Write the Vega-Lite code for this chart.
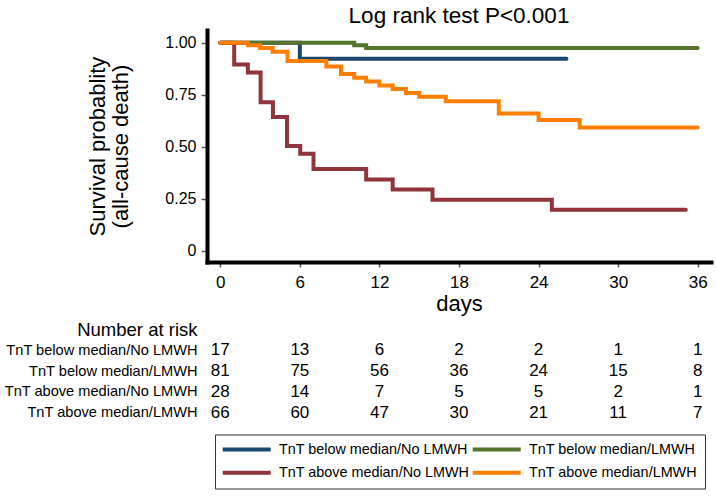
{
  "$schema": "https://vega.github.io/schema/vega-lite/v6.json",
  "background": "white",
  "padding": {"left": 3, "top": 4, "right": 4, "bottom": 4},
  "spacing": 5,
  "config": {
    "view": {"stroke": null},
    "font": "Liberation Sans",
    "axis": {"grid": false}
  },
  "datasets": {
    "km": [
      {"group": "TnT below median/No LMWH", "day": 0, "surv": 1},
      {"group": "TnT below median/No LMWH", "day": 6, "surv": 0.923},
      {"group": "TnT below median/No LMWH", "day": 26.1, "surv": 0.923},
      {"group": "TnT below median/LMWH", "day": 0, "surv": 1},
      {"group": "TnT below median/LMWH", "day": 10.1, "surv": 0.988},
      {"group": "TnT below median/LMWH", "day": 11, "surv": 0.975},
      {"group": "TnT below median/LMWH", "day": 36, "surv": 0.975},
      {"group": "TnT above median/No LMWH", "day": 0, "surv": 1},
      {"group": "TnT above median/No LMWH", "day": 1.05, "surv": 0.895},
      {"group": "TnT above median/No LMWH", "day": 2.08, "surv": 0.857},
      {"group": "TnT above median/No LMWH", "day": 3.04, "surv": 0.714},
      {"group": "TnT above median/No LMWH", "day": 3.97, "surv": 0.643},
      {"group": "TnT above median/No LMWH", "day": 5.03, "surv": 0.503},
      {"group": "TnT above median/No LMWH", "day": 6.03, "surv": 0.466},
      {"group": "TnT above median/No LMWH", "day": 7.03, "surv": 0.393},
      {"group": "TnT above median/No LMWH", "day": 11, "surv": 0.343},
      {"group": "TnT above median/No LMWH", "day": 13, "surv": 0.295},
      {"group": "TnT above median/No LMWH", "day": 16, "surv": 0.245},
      {"group": "TnT above median/No LMWH", "day": 25, "surv": 0.197},
      {"group": "TnT above median/No LMWH", "day": 35.1, "surv": 0.197},
      {"group": "TnT above median/LMWH", "day": 0, "surv": 1},
      {"group": "TnT above median/LMWH", "day": 2.08, "surv": 0.988},
      {"group": "TnT above median/LMWH", "day": 3.0, "surv": 0.975},
      {"group": "TnT above median/LMWH", "day": 3.95, "surv": 0.957},
      {"group": "TnT above median/LMWH", "day": 5.07, "surv": 0.912},
      {"group": "TnT above median/LMWH", "day": 8.0, "surv": 0.885},
      {"group": "TnT above median/LMWH", "day": 9.1, "surv": 0.85},
      {"group": "TnT above median/LMWH", "day": 10.1, "surv": 0.831},
      {"group": "TnT above median/LMWH", "day": 11.0, "surv": 0.814},
      {"group": "TnT above median/LMWH", "day": 12.0, "surv": 0.794},
      {"group": "TnT above median/LMWH", "day": 13.0, "surv": 0.777},
      {"group": "TnT above median/LMWH", "day": 14.0, "surv": 0.758},
      {"group": "TnT above median/LMWH", "day": 15.0, "surv": 0.74},
      {"group": "TnT above median/LMWH", "day": 17.0, "surv": 0.718},
      {"group": "TnT above median/LMWH", "day": 21.0, "surv": 0.66},
      {"group": "TnT above median/LMWH", "day": 24.0, "surv": 0.628},
      {"group": "TnT above median/LMWH", "day": 27.1, "surv": 0.593},
      {"group": "TnT above median/LMWH", "day": 36.0, "surv": 0.593}
    ],
    "risk": [
      {"group": "TnT below median/No LMWH", "day": 0, "n": 17},
      {"group": "TnT below median/No LMWH", "day": 6, "n": 13},
      {"group": "TnT below median/No LMWH", "day": 12, "n": 6},
      {"group": "TnT below median/No LMWH", "day": 18, "n": 2},
      {"group": "TnT below median/No LMWH", "day": 24, "n": 2},
      {"group": "TnT below median/No LMWH", "day": 30, "n": 1},
      {"group": "TnT below median/No LMWH", "day": 36, "n": 1},
      {"group": "TnT below median/LMWH", "day": 0, "n": 81},
      {"group": "TnT below median/LMWH", "day": 6, "n": 75},
      {"group": "TnT below median/LMWH", "day": 12, "n": 56},
      {"group": "TnT below median/LMWH", "day": 18, "n": 36},
      {"group": "TnT below median/LMWH", "day": 24, "n": 24},
      {"group": "TnT below median/LMWH", "day": 30, "n": 15},
      {"group": "TnT below median/LMWH", "day": 36, "n": 8},
      {"group": "TnT above median/No LMWH", "day": 0, "n": 28},
      {"group": "TnT above median/No LMWH", "day": 6, "n": 14},
      {"group": "TnT above median/No LMWH", "day": 12, "n": 7},
      {"group": "TnT above median/No LMWH", "day": 18, "n": 5},
      {"group": "TnT above median/No LMWH", "day": 24, "n": 5},
      {"group": "TnT above median/No LMWH", "day": 30, "n": 2},
      {"group": "TnT above median/No LMWH", "day": 36, "n": 1},
      {"group": "TnT above median/LMWH", "day": 0, "n": 66},
      {"group": "TnT above median/LMWH", "day": 6, "n": 60},
      {"group": "TnT above median/LMWH", "day": 12, "n": 47},
      {"group": "TnT above median/LMWH", "day": 18, "n": 30},
      {"group": "TnT above median/LMWH", "day": 24, "n": 21},
      {"group": "TnT above median/LMWH", "day": 30, "n": 11},
      {"group": "TnT above median/LMWH", "day": 36, "n": 7}
    ]
  },
  "resolve": {"scale": {"x": "independent", "y": "independent"}},
  "vconcat": [
    {
      "width": 504,
      "height": 232,
      "title": {"text": "Log rank test P<0.001", "fontSize": 22.5, "fontWeight": "normal", "anchor": "middle", "offset": 3, "color": "black", "font": "Liberation Sans"},
      "data": {"name": "km"},
      "mark": {"type": "line", "interpolate": "step-after", "strokeWidth": 4, "strokeCap": "round", "strokeJoin": "miter"},
      "encoding": {
        "x": {
          "field": "day", "type": "quantitative",
          "scale": {"domain": [-1, 37], "nice": false, "zero": false},
          "axis": {"values": [0, 6, 12, 18, 24, 30, 36], "title": "days", "titleFontSize": 22, "titleFontWeight": "normal", "titleColor": "black", "titlePadding": 3, "labelFontSize": 17, "labelColor": "black", "labelPadding": 7, "tickSize": 5, "tickColor": "#555", "tickWidth": 1.5, "domainColor": "black", "domainWidth": 4, "domainCap": "square", "labelFlush": false}
        },
        "y": {
          "field": "surv", "type": "quantitative",
          "scale": {"domain": [-0.054, 1.061], "nice": false, "zero": false},
          "axis": {"values": [0, 0.25, 0.5, 0.75, 1], "labelExpr": "datum.value == 0 ? '0' : format(datum.value, '.2f')", "title": ["Survival probablity", "(all-cause death)"], "titleFontSize": 22, "titleFontWeight": "normal", "titleColor": "black", "titleLineHeight": 23, "titlePadding": 32, "labelFontSize": 16, "labelColor": "black", "labelPadding": 5, "tickSize": 6, "tickColor": "#555", "tickWidth": 1.5, "domainColor": "black", "domainWidth": 4, "domainCap": "square", "labelFlush": false}
        },
        "color": {
          "field": "group", "type": "nominal",
          "scale": {
            "domain": ["TnT below median/No LMWH", "TnT above median/No LMWH", "TnT below median/LMWH", "TnT above median/LMWH"],
            "range": ["#1a476f", "#90353b", "#55752f", "#ff8000"]
          },
          "legend": {"orient": "none", "legendX": 8, "legendY": 404.5, "title": null, "columns": 2, "symbolType": "M-1.4,0H8.2", "symbolStrokeWidth": 4, "symbolSize": 100, "labelFontSize": 14.4, "labelColor": "black", "labelLimit": 400, "strokeColor": "#333", "fillColor": "white", "padding": 7.5, "rowPadding": 6.5, "columnPadding": -5, "labelOffset": 42}
        }
      }
    },
    {
      "width": 504,
      "height": 104,
      "data": {"name": "risk"},
      "mark": {"type": "text", "fontSize": 17, "color": "black"},
      "encoding": {
        "x": {"field": "day", "type": "quantitative", "scale": {"domain": [-1, 37], "nice": false, "zero": false}, "axis": null},
        "y": {
          "field": "group", "type": "nominal",
          "scale": {"domain": ["Number at risk", "TnT below median/No LMWH", "TnT below median/LMWH", "TnT above median/No LMWH", "TnT above median/LMWH"], "paddingInner": 0, "paddingOuter": 0},
          "axis": {"title": null, "domain": false, "ticks": false, "labelPadding": 10, "labelFontSize": {"condition": {"test": "datum.value == 'Number at risk'", "value": 18.5}, "value": 14.6}, "labelColor": "black", "labelLimit": 400}
        },
        "text": {"field": "n", "type": "quantitative"}
      }
    }
  ]
}
